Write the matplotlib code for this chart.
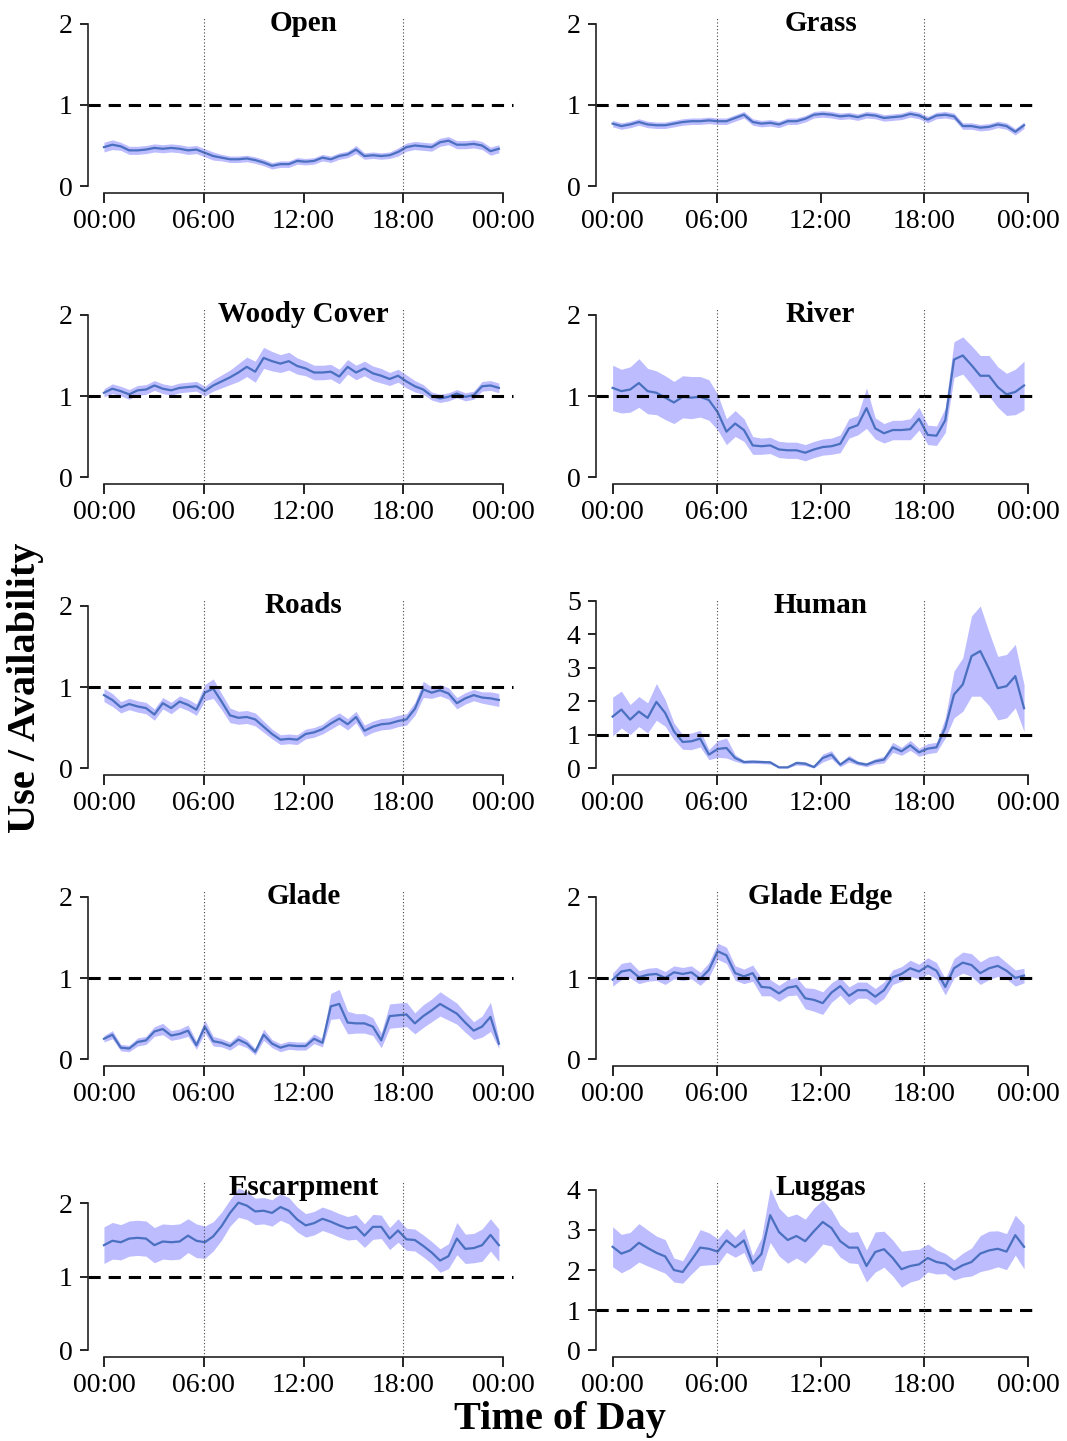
import numpy as np
import matplotlib
matplotlib.use('Agg')
import matplotlib.pyplot as plt

plt.rcParams['font.family'] = ['Liberation Serif', 'DejaVu Serif']

# half-hourly bins, last bin ends at 23:45
hours = np.linspace(0, 23.75, 48)

titles = ['Open', 'Grass', 'Woody Cover', 'River', 'Roads', 'Human',
          'Glade', 'Glade Edge', 'Escarpment', 'Luggas']

open_mean = [0.48, 0.51, 0.49, 0.44, 0.44, 0.45, 0.47, 0.46, 0.47, 0.46, 0.44, 0.45,
             0.41, 0.37, 0.35, 0.33, 0.33, 0.34, 0.32, 0.29, 0.25, 0.27, 0.27, 0.31,
             0.30, 0.31, 0.35, 0.33, 0.37, 0.39, 0.45, 0.37, 0.38, 0.37, 0.38, 0.42,
             0.48, 0.50, 0.49, 0.48, 0.54, 0.56, 0.51, 0.51, 0.52, 0.50, 0.43, 0.46]
open_hw = [0.06, 0.06, 0.05, 0.05, 0.05, 0.05, 0.05, 0.05, 0.05, 0.05, 0.05, 0.05,
           0.05, 0.05, 0.04, 0.04, 0.04, 0.04, 0.04, 0.04, 0.04, 0.04, 0.04, 0.04,
           0.04, 0.04, 0.04, 0.04, 0.04, 0.04, 0.05, 0.04, 0.04, 0.04, 0.04, 0.05,
           0.05, 0.05, 0.05, 0.05, 0.05, 0.05, 0.05, 0.05, 0.05, 0.05, 0.05, 0.05]

grass_mean = [0.77, 0.74, 0.76, 0.79, 0.76, 0.75, 0.75, 0.77, 0.79, 0.80, 0.80, 0.81,
              0.80, 0.80, 0.84, 0.88, 0.79, 0.77, 0.78, 0.76, 0.80, 0.80, 0.83, 0.88,
              0.89, 0.88, 0.86, 0.87, 0.85, 0.88, 0.87, 0.84, 0.85, 0.86, 0.89, 0.87,
              0.82, 0.87, 0.88, 0.86, 0.74, 0.74, 0.72, 0.73, 0.76, 0.74, 0.67, 0.75]
grass_hw = [0.04] * 48

woody_mean = [1.04, 1.09, 1.06, 1.02, 1.07, 1.08, 1.13, 1.09, 1.07, 1.10, 1.11, 1.12,
              1.06, 1.13, 1.18, 1.23, 1.29, 1.36, 1.30, 1.47, 1.43, 1.40, 1.43, 1.37,
              1.34, 1.29, 1.29, 1.30, 1.24, 1.36, 1.29, 1.34, 1.28, 1.25, 1.21, 1.25,
              1.18, 1.12, 1.08, 1.00, 0.97, 0.99, 1.03, 0.99, 1.01, 1.12, 1.13, 1.10]
woody_hw = [0.05, 0.06, 0.06, 0.06, 0.06, 0.06, 0.06, 0.06, 0.06, 0.06, 0.06, 0.06,
            0.06, 0.07, 0.08, 0.09, 0.11, 0.12, 0.13, 0.13, 0.12, 0.11, 0.11, 0.10,
            0.09, 0.09, 0.09, 0.09, 0.09, 0.09, 0.09, 0.09, 0.09, 0.09, 0.08, 0.08,
            0.08, 0.07, 0.06, 0.05, 0.05, 0.05, 0.05, 0.05, 0.05, 0.06, 0.06, 0.06]

river_mean = [1.10, 1.06, 1.08, 1.16, 1.06, 1.04, 0.98, 0.92, 0.99, 0.98, 0.99, 0.95,
              0.80, 0.56, 0.66, 0.58, 0.39, 0.38, 0.39, 0.34, 0.33, 0.33, 0.30, 0.34,
              0.37, 0.38, 0.41, 0.60, 0.64, 0.85, 0.60, 0.54, 0.58, 0.58, 0.59, 0.72,
              0.52, 0.51, 0.70, 1.45, 1.50, 1.38, 1.25, 1.25, 1.11, 1.02, 1.05, 1.13]
river_hw = [0.28, 0.27, 0.28, 0.30, 0.28, 0.27, 0.27, 0.26, 0.26, 0.26, 0.25, 0.25,
            0.22, 0.16, 0.16, 0.14, 0.11, 0.10, 0.10, 0.10, 0.10, 0.10, 0.10, 0.10,
            0.10, 0.10, 0.11, 0.12, 0.12, 0.25, 0.13, 0.12, 0.12, 0.12, 0.13, 0.14,
            0.12, 0.12, 0.15, 0.22, 0.23, 0.24, 0.25, 0.25, 0.25, 0.26, 0.28, 0.30]

roads_mean = [0.90, 0.84, 0.75, 0.79, 0.76, 0.74, 0.66, 0.80, 0.74, 0.82, 0.78, 0.72,
              0.93, 0.98, 0.82, 0.65, 0.62, 0.63, 0.60, 0.51, 0.42, 0.35, 0.36, 0.35,
              0.42, 0.44, 0.48, 0.55, 0.61, 0.54, 0.63, 0.46, 0.51, 0.54, 0.55, 0.58,
              0.60, 0.73, 0.97, 0.93, 0.96, 0.92, 0.80, 0.86, 0.90, 0.87, 0.86, 0.84]
roads_hw = [0.08, 0.08, 0.07, 0.07, 0.07, 0.07, 0.07, 0.07, 0.07, 0.07, 0.07, 0.07,
            0.10, 0.12, 0.10, 0.09, 0.08, 0.08, 0.08, 0.07, 0.06, 0.06, 0.06, 0.06,
            0.06, 0.06, 0.06, 0.07, 0.07, 0.07, 0.07, 0.07, 0.07, 0.07, 0.07, 0.07,
            0.07, 0.08, 0.10, 0.07, 0.07, 0.07, 0.07, 0.07, 0.07, 0.07, 0.08, 0.08]

human_mean = [1.54, 1.75, 1.45, 1.69, 1.50, 1.98, 1.65, 1.10, 0.78, 0.80, 0.88, 0.40,
              0.57, 0.60, 0.30, 0.18, 0.19, 0.18, 0.17, 0.02, 0.02, 0.15, 0.13, 0.03,
              0.30, 0.40, 0.10, 0.28, 0.15, 0.10, 0.20, 0.25, 0.62, 0.50, 0.68, 0.47,
              0.58, 0.62, 1.20, 2.20, 2.50, 3.35, 3.50, 2.97, 2.39, 2.45, 2.75, 1.79]
human_hw = [0.58, 0.55, 0.45, 0.45, 0.45, 0.55, 0.40, 0.25, 0.22, 0.25, 0.25, 0.15,
            0.25, 0.30, 0.10, 0.05, 0.05, 0.05, 0.05, 0.02, 0.02, 0.06, 0.06, 0.03,
            0.12, 0.12, 0.06, 0.10, 0.06, 0.06, 0.08, 0.10, 0.15, 0.12, 0.15, 0.12,
            0.15, 0.15, 0.30, 0.70, 0.80, 1.20, 1.35, 1.10, 0.95, 0.95, 0.95, 0.70]

glade_mean = [0.25, 0.30, 0.14, 0.13, 0.21, 0.23, 0.34, 0.37, 0.29, 0.31, 0.35, 0.17,
              0.40, 0.22, 0.20, 0.16, 0.24, 0.19, 0.09, 0.30, 0.19, 0.14, 0.17, 0.16,
              0.16, 0.25, 0.20, 0.65, 0.68, 0.45, 0.44, 0.44, 0.40, 0.23, 0.53, 0.54,
              0.55, 0.44, 0.53, 0.60, 0.68, 0.62, 0.56, 0.45, 0.35, 0.40, 0.52, 0.19]
glade_hw = [0.04, 0.05, 0.04, 0.04, 0.05, 0.05, 0.06, 0.07, 0.06, 0.06, 0.07, 0.05,
            0.08, 0.06, 0.05, 0.05, 0.06, 0.05, 0.04, 0.07, 0.05, 0.05, 0.05, 0.05,
            0.05, 0.06, 0.05, 0.16, 0.18, 0.14, 0.12, 0.12, 0.11, 0.09, 0.15, 0.15,
            0.15, 0.13, 0.14, 0.14, 0.15, 0.14, 0.13, 0.12, 0.11, 0.13, 0.18, 0.06]

edge_mean = [0.98, 1.08, 1.10, 1.01, 1.04, 1.05, 1.00, 1.07, 1.05, 1.07, 0.99, 1.10,
             1.33, 1.28, 1.06, 1.02, 1.06, 0.89, 0.88, 0.81, 0.88, 0.90, 0.75, 0.73,
             0.69, 0.82, 0.90, 0.78, 0.85, 0.85, 0.77, 0.85, 1.01, 1.05, 1.12, 1.08,
             1.15, 1.09, 0.89, 1.12, 1.19, 1.16, 1.06, 1.12, 1.15, 1.09, 1.00, 1.03]
edge_hw = [0.08, 0.10, 0.10, 0.08, 0.08, 0.08, 0.08, 0.08, 0.08, 0.08, 0.08, 0.09,
           0.10, 0.10, 0.09, 0.09, 0.10, 0.11, 0.10, 0.10, 0.10, 0.11, 0.13, 0.14,
           0.14, 0.12, 0.11, 0.11, 0.10, 0.10, 0.10, 0.10, 0.09, 0.09, 0.10, 0.09,
           0.10, 0.10, 0.10, 0.12, 0.13, 0.14, 0.14, 0.14, 0.13, 0.10, 0.10, 0.09]

escarp_mean = [1.43, 1.49, 1.47, 1.52, 1.53, 1.52, 1.43, 1.48, 1.47, 1.48, 1.56, 1.49,
               1.47, 1.55, 1.69, 1.87, 2.01, 1.97, 1.89, 1.90, 1.87, 1.95, 1.90, 1.78,
               1.70, 1.73, 1.79, 1.75, 1.70, 1.66, 1.68, 1.56, 1.68, 1.68, 1.52, 1.63,
               1.51, 1.50, 1.42, 1.33, 1.22, 1.28, 1.52, 1.38, 1.39, 1.43, 1.57, 1.43]
escarp_hw = [0.25, 0.25, 0.24, 0.24, 0.24, 0.24, 0.24, 0.24, 0.24, 0.24, 0.23, 0.23,
             0.22, 0.20, 0.19, 0.18, 0.20, 0.19, 0.18, 0.18, 0.18, 0.18, 0.18, 0.17,
             0.16, 0.16, 0.16, 0.16, 0.16, 0.16, 0.17, 0.16, 0.17, 0.16, 0.15, 0.16,
             0.15, 0.15, 0.15, 0.15, 0.16, 0.17, 0.22, 0.20, 0.20, 0.22, 0.22, 0.22]

luggas_mean = [2.58, 2.41, 2.49, 2.68, 2.55, 2.43, 2.34, 2.00, 1.95, 2.25, 2.56, 2.53,
               2.46, 2.74, 2.57, 2.74, 2.16, 2.40, 3.37, 2.95, 2.75, 2.85, 2.72, 2.97,
               3.20, 3.05, 2.72, 2.56, 2.56, 2.10, 2.45, 2.52, 2.30, 2.02, 2.10, 2.14,
               2.30, 2.20, 2.16, 2.00, 2.12, 2.20, 2.41, 2.49, 2.53, 2.46, 2.87, 2.58]
luggas_hw = [0.50, 0.48, 0.45, 0.48, 0.45, 0.42, 0.42, 0.30, 0.28, 0.35, 0.45, 0.40,
             0.32, 0.30, 0.25, 0.30, 0.20, 0.40, 0.68, 0.60, 0.58, 0.55, 0.55, 0.58,
             0.55, 0.45, 0.40, 0.38, 0.40, 0.40, 0.50, 0.45, 0.45, 0.45, 0.40, 0.38,
             0.35, 0.30, 0.25, 0.25, 0.30, 0.35, 0.45, 0.48, 0.45, 0.45, 0.50, 0.55]

means = [open_mean, grass_mean, woody_mean, river_mean, roads_mean, human_mean,
         glade_mean, edge_mean, escarp_mean, luggas_mean]
halfwidths = [open_hw, grass_hw, woody_hw, river_hw, roads_hw, human_hw,
              glade_hw, edge_hw, escarp_hw, luggas_hw]

line_col = '#4a70bf'
band_col = '#bcbcff'

fig = plt.figure(figsize=(10.67, 14.41), dpi=100)
W, H = 1067.0, 1441.0

for i, title in enumerate(titles):
    row, col = divmod(i, 2)
    if col == 0:
        left, width = 88, 431
    else:
        left, width = 596, 449
    top = 17.5 + 291 * row
    height = 175
    ax = fig.add_axes([left / W, 1 - (top + height) / H, width / W, height / H])

    m = np.array(means[i])
    hw = np.array(halfwidths[i])
    lo = m - hw
    hi = m + hw
    ytop = max(2, hi.max())

    ax.fill_between(hours, lo, hi, color=band_col, lw=0)
    ax.plot(hours, m, color=line_col, lw=1.6)
    ax.axhline(1, xmax=0.985, color='black', lw=2.2, dashes=(4, 2.6))
    for h in (6, 18):
        ax.axvline(h, color='#444444', lw=0.8, ls=(0, (1, 2)))

    ax.set_xlim(-0.96, 24.96)
    ax.set_ylim(-0.04 * ytop, ytop * 1.04)
    yt = np.arange(0, int(np.floor(ytop * 1.04)) + 1)
    ax.set_yticks(yt)
    ax.set_xticks([0, 6, 12, 18, 24])
    ax.set_xticklabels(['00:00', '06:00', '12:00', '18:00', '00:00'])

    for s in ('top', 'right'):
        ax.spines[s].set_visible(False)
    ax.spines['left'].set_bounds(0, yt[-1])
    ax.spines['bottom'].set_bounds(0, 24)
    for s in ('left', 'bottom'):
        ax.spines[s].set_linewidth(1.2)
        ax.spines[s].set_color('#222222')
    ax.tick_params(axis='y', length=6, width=1.2, labelsize=20, pad=5)
    ax.tick_params(axis='x', length=7, width=1.2, labelsize=20, pad=5)
    ax.patch.set_alpha(0)

    ax.text(0.5, 1 - 6 / height, title, transform=ax.transAxes,
            ha='center', va='center', fontsize=21, fontweight='bold')

fig.text(26 / W, 1 - 688 / H, 'Use / Availability', rotation=90, ha='center',
         va='center', fontsize=29, fontweight='bold')
fig.text(560 / W, 1 - 1420 / H, 'Time of Day', ha='center', va='center',
         fontsize=29, fontweight='bold')

fig.savefig('out.png', dpi=100)
